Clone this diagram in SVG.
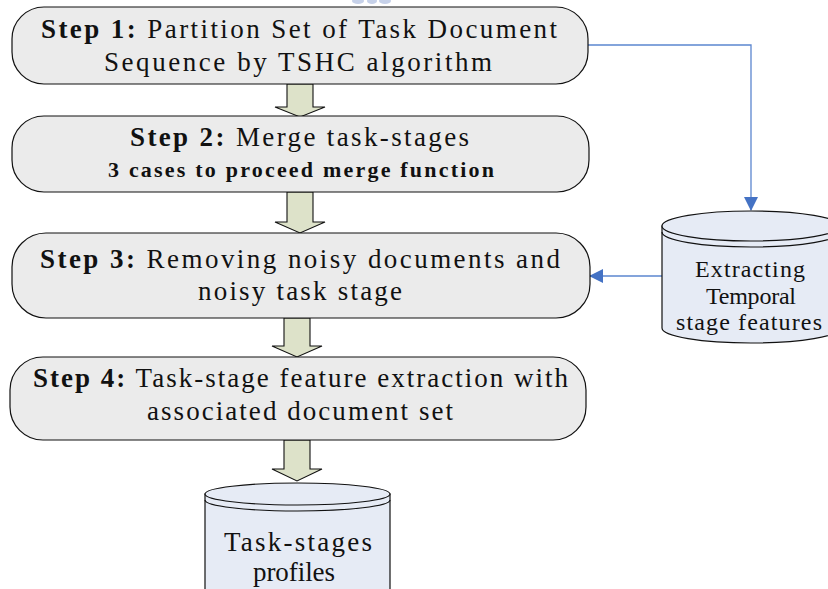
<svg xmlns="http://www.w3.org/2000/svg" width="828" height="589" viewBox="0 0 828 589">
<defs>
<style>
.box{fill:#ebebeb;stroke:#111;stroke-width:1.2}
.t{font-family:"Liberation Serif","Times New Roman",serif;font-size:27px;fill:#111}
.b{font-weight:bold}
.t2{font-family:"Liberation Serif","Times New Roman",serif;font-size:22px;font-weight:bold;fill:#111}
.ct{font-family:"Liberation Serif","Times New Roman",serif;font-size:24px;fill:#111}
.cyl{fill:#e6ebf5;stroke:#111;stroke-width:1.2}
.arc{fill:none;stroke:#111;stroke-width:1.2}
.fat{fill:#dde2c9;stroke:#111;stroke-width:1.1}
.blue{fill:none;stroke:#5b86cf;stroke-width:1.3}
</style>
<marker id="ah" markerWidth="14" markerHeight="14" refX="13" refY="7" orient="auto" markerUnits="userSpaceOnUse">
<path d="M0,0 L14,7 L0,14 Z" fill="#4472c4"/>
</marker>
</defs>
<rect width="828" height="589" fill="#ffffff"/>
<g id="watermark" fill="#b9c6e4" opacity="0.8">
<ellipse cx="358" cy="1" rx="6" ry="3"/>
<ellipse cx="372" cy="1" rx="5" ry="3"/>
<ellipse cx="385" cy="1" rx="6" ry="3"/>
</g>
<g id="connectors">
<polygon class="fat" points="287,84 313,84 313,107 325,107 300,117 275,107 287,107"/>
<polygon class="fat" points="287,192 313,192 313,222 325,222 300,233 275,222 287,222"/>
<polygon class="fat" points="284,318 310,318 310,346 322,346 297,357 272,346 284,346"/>
<polygon class="fat" points="284,440 310,440 310,469 322,469 297,481 272,469 284,469"/>
<polyline class="blue" points="588,45 751,45 751,210" marker-end="url(#ah)"/>
<line class="blue" x1="662" y1="276" x2="590" y2="276" marker-end="url(#ah)"/>
</g>
<g id="step1">
<rect class="box" x="12" y="7" width="576" height="77" rx="32" ry="32"/>
<text class="t" x="41" y="38" textLength="516" lengthAdjust="spacing"><tspan class="b">Step 1:</tspan> Partition Set of Task Document</text>
<text class="t" x="104" y="71" textLength="388" lengthAdjust="spacing">Sequence by TSHC algorithm</text>
</g>
<g id="step2">
<rect class="box" x="12" y="116" width="577" height="76" rx="32" ry="32"/>
<text class="t" x="130" y="146" textLength="339" lengthAdjust="spacing"><tspan class="b">Step 2:</tspan> Merge task-stages</text>
<text class="t2" x="108" y="177" textLength="386" lengthAdjust="spacing">3 cases to proceed merge function</text>
</g>
<g id="step3">
<rect class="box" x="12" y="233" width="578" height="85" rx="34" ry="34"/>
<text class="t" x="40" y="268" textLength="520" lengthAdjust="spacing"><tspan class="b">Step 3:</tspan> Removing noisy documents and</text>
<text class="t" x="198" y="300" textLength="204" lengthAdjust="spacing">noisy task stage</text>
</g>
<g id="step4">
<rect class="box" x="10" y="357" width="576" height="83" rx="33" ry="33"/>
<text class="t" x="33" y="387" textLength="535" lengthAdjust="spacing"><tspan class="b">Step 4:</tspan> Task-stage feature extraction with</text>
<text class="t" x="147" y="420" textLength="306" lengthAdjust="spacing">associated document set</text>
</g>
<g id="temporal-features">
<path class="cyl" d="M662,226 L662,328 A89,15 0 0 0 840,328 L840,226 Z"/>
<ellipse class="cyl" cx="751" cy="226" rx="89" ry="15"/>
<path class="arc" d="M662,232 A89,15 0 0 0 840,232"/>
<text class="ct" x="695" y="277" textLength="110" lengthAdjust="spacing">Extracting</text>
<text class="ct" x="706" y="304" textLength="90" lengthAdjust="spacing">Temporal</text>
<text class="ct" x="676" y="330" textLength="146" lengthAdjust="spacing">stage features</text>
</g>
<g id="task-stages-profiles">
<path class="cyl" d="M205,494 L205,600 L390,600 L390,494 Z"/>
<ellipse class="cyl" cx="297.5" cy="494" rx="92.5" ry="11"/>
<path class="arc" d="M205,500 A92.5,11 0 0 0 390,500"/>
<text class="t" x="224" y="551" textLength="148" lengthAdjust="spacing">Task-stages</text>
<text class="t" x="253" y="581" textLength="82" lengthAdjust="spacing">profiles</text>
</g>
</svg>
